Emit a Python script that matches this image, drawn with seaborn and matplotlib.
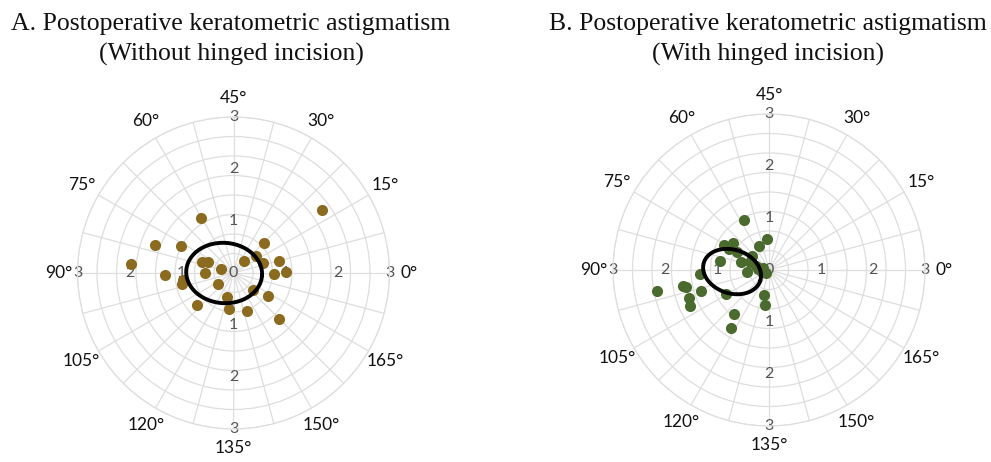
import numpy as np
import matplotlib
matplotlib.use("Agg")
import matplotlib.pyplot as plt
import seaborn as sns
import pandas as pd

sns.set_theme(style="white")
plt.rcParams['font.family'] = ['Lato', 'DejaVu Sans']

# ---------------- data (double-angle vector components, diopters) ----------------
a_x = [1.70, -0.62, -1.51, -1.01, -1.97, -1.31, -0.98, -0.99, -0.60, -0.50,
       -0.54, -0.24, -0.29, -0.70, -0.13, -0.08, 0.26, 0.88, 0.66, 0.38,
       0.21, 0.43, 0.59, 0.57, 0.87, 0.78, 1.01]
a_y = [1.21, 1.06, 0.53, 0.51, 0.17, -0.04, -0.14, -0.22, 0.22, 0.22,
       0.00, 0.08, -0.22, -0.62, -0.47, -0.69, -0.74, -0.89, -0.45, -0.32,
       0.23, 0.33, 0.58, 0.19, 0.24, -0.01, 0.02]

b_x = [-0.49, -0.03, -0.19, -0.87, -0.70, -0.76, -0.61, -0.33, -0.54, -0.94,
       -0.37, -0.25, -0.21, -0.14, -0.42, -0.11, -1.33, -2.15, -1.65, -1.60,
       -1.31, -1.53, -1.51, -0.83, -0.10, -0.07, -0.67, -0.74, -0.05]
b_y = [0.97, 0.60, 0.47, 0.48, 0.52, 0.40, 0.34, 0.26, 0.15, 0.18,
       0.15, 0.08, 0.02, -0.03, -0.03, 0.04, -0.08, -0.40, -0.31, -0.32,
       -0.41, -0.53, -0.69, -0.46, -0.49, -0.68, -0.84, -1.11, -0.06]

# centroid ellipses: centre x, centre y, semi-axis a, semi-axis b, tilt (deg)
ell_a_cx, ell_a_cy, ell_a_sa, ell_a_sb, ell_a_tilt = -0.18, 0.00, 0.73, 0.58, -4
ell_b_cx, ell_b_cy, ell_b_sa, ell_b_sb, ell_b_tilt = -0.71, -0.03, 0.57, 0.42, -18

axis_labels = [0, 15, 30, 45, 60, 75, 90, 105, 120, 135, 150, 165]
radial_labels = [1, 2, 3]

titles = [("A. Postoperative keratometric astigmatism", "(Without hinged incision)"),
          ("B. Postoperative keratometric astigmatism", "(With hinged incision)")]

col_a = "#8b6b1f"
col_b = "#4a6a2e"

# ---------------- figure ----------------
fig = plt.figure(figsize=(9.91, 4.62), dpi=100)
fig.patch.set_facecolor("white")

W, H = 991, 462
R = 156  # pixel radius of r=3


def panel(cx, cy, xs, ys, color, ell):
    ax = fig.add_axes([(cx - R) / W, (H - cy - R) / H, 2 * R / W, 2 * R / H],
                      projection="polar")
    ax.set_theta_zero_location("E")
    ax.set_facecolor("white")
    ax.set_ylim(0, 3)
    ax.set_xticks(np.deg2rad(np.arange(0, 360, 15)))
    ax.set_xticklabels([])
    ax.set_yticks(np.arange(1, 9) * 0.375)
    ax.set_yticklabels([])
    ax.grid(True, color="#dedede", lw=0.9)
    ax.spines["polar"].set_color("#dedede")
    ax.spines["polar"].set_linewidth(0.9)

    # radial labels
    for ang in [0, 90, 180, 270]:
        for rv in radial_labels:
            ax.text(np.deg2rad(ang), rv, str(rv), ha="center", va="center",
                    fontsize=11.5, color="#555555", zorder=2)
    ax.text(0, 0, "0", ha="center", va="center", fontsize=11.5, color="#555555", zorder=2)

    # angle labels (double-angle plot)
    for d in axis_labels:
        ax.text(np.deg2rad(2 * d), 3.37, f"{d}°", ha="center", va="center",
                fontsize=12.5, color="#111111")

    xs = np.asarray(xs); ys = np.asarray(ys)
    df = pd.DataFrame({"theta": np.arctan2(ys, xs), "r": np.hypot(xs, ys)})
    sns.scatterplot(data=df, x="theta", y="r", ax=ax, color=color, s=64,
                    linewidth=0, zorder=3, legend=False)

    ecx, ecy, sa, sb, tilt = ell
    t = np.linspace(0, 2 * np.pi, 400)
    ph = np.deg2rad(tilt)
    ex = ecx + sa * np.cos(t) * np.cos(ph) - sb * np.sin(t) * np.sin(ph)
    ey = ecy + sa * np.cos(t) * np.sin(ph) + sb * np.sin(t) * np.cos(ph)
    ax.plot(np.unwrap(np.arctan2(ey, ex)), np.hypot(ex, ey), color="black",
            lw=2.8, zorder=4)
    ax.set_xlabel("")
    ax.set_ylabel("")
    ax.set_ylim(0, 3)
    return ax


panel(233.5, 273, a_x, a_y, col_a,
      (ell_a_cx, ell_a_cy, ell_a_sa, ell_a_sb, ell_a_tilt))
panel(769, 270, b_x, b_y, col_b,
      (ell_b_cx, ell_b_cy, ell_b_sa, ell_b_sb, ell_b_tilt))

# titles
serif = ["Liberation Serif", "DejaVu Serif"]
txts = []
for (l1, l2), xc in zip(titles, [231, 768]):
    t1 = fig.text(xc / W, 1 - 30 / H, l1, ha="center", va="baseline",
                  fontsize=18, family=serif, color="#111111")
    t2 = fig.text(xc / W, 1 - 61 / H, l2, ha="center", va="baseline",
                  fontsize=18, family=serif, color="#111111")
    txts += [t1, t2]

fig.canvas.draw()
w = txts[2].get_window_extent().width
fs = 18 * 437 / w
for t in txts:
    t.set_fontsize(fs)

fig.savefig("out.png", dpi=100, facecolor="white")
